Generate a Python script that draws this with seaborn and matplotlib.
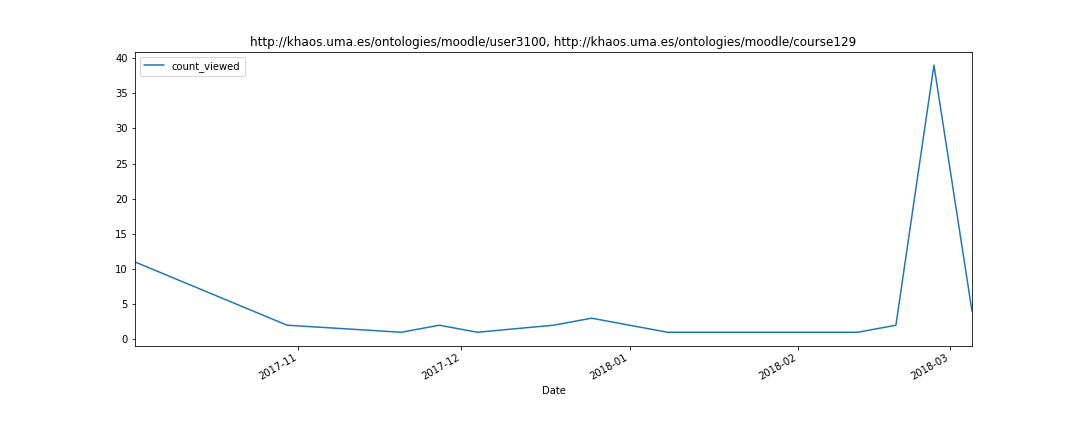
import matplotlib
matplotlib.use("Agg")
import matplotlib.pyplot as plt
import matplotlib.dates as mdates
import seaborn as sns
import pandas as pd

dates = ["2017-10-02", "2017-10-30", "2017-11-20", "2017-11-27", "2017-12-04",
         "2017-12-18", "2017-12-25", "2018-01-08", "2018-02-12", "2018-02-19",
         "2018-02-26", "2018-03-05"]
count_viewed = [11, 2, 1, 2, 1, 2, 3, 1, 1, 2, 39, 4]
title = "http://khaos.uma.es/ontologies/moodle/user3100, http://khaos.uma.es/ontologies/moodle/course129"

df = pd.DataFrame({"Date": pd.to_datetime(dates), "count_viewed": count_viewed})

sns.set_style("ticks")
plt.rcParams["font.family"] = ["DejaVu Sans"]
plt.rcParams["font.size"] = 10
plt.rcParams["text.color"] = "black"
plt.rcParams["axes.labelcolor"] = "black"
plt.rcParams["xtick.color"] = "black"
plt.rcParams["ytick.color"] = "black"

fig, ax = plt.subplots(figsize=(15, 6), dpi=72)
sns.lineplot(data=df, x="Date", y="count_viewed", ax=ax, color="#1f77b4",
             label="count_viewed", linewidth=1.5)
ax.set_xlim(df["Date"].min(), df["Date"].max())
ax.set_ylim(-0.9, 40.9)
ax.set_yticks(range(0, 41, 5))
ax.xaxis.set_major_locator(mdates.MonthLocator())
ax.xaxis.set_major_formatter(mdates.DateFormatter("%Y-%m"))
ax.set_ylabel("")
ax.set_xlabel("Date", color="black")
ax.set_title(title, fontsize=12, color="black")
ax.legend(loc="upper left")
for s in ax.spines.values():
    s.set_visible(True)
    s.set_color("black")
    s.set_linewidth(0.8)
ax.tick_params(colors="black", labelsize=10)
plt.setp(ax.get_xticklabels(), rotation=30, ha="right")
fig.subplots_adjust(left=0.125, right=0.9, top=0.88, bottom=0.2)
fig.savefig("out.png", dpi=72, facecolor="white")
